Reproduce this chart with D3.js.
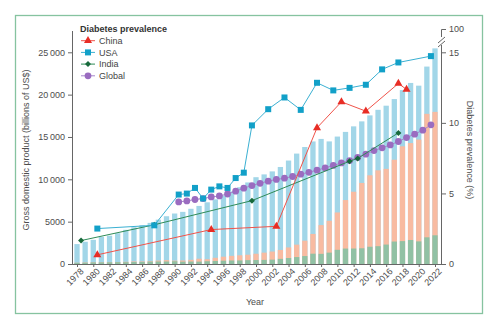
<!DOCTYPE html>
<html>
<head>
<meta charset="utf-8">
<script src="https://cdn.jsdelivr.net/npm/d3@7"></script>
<style>
body { margin: 0; background: #fff; }
svg { display: block; }
</style>
</head>
<body>
<script>
// GDP, billions of US$, one bar per year
var years = d3.range(1978, 2023);
var gdpUSA = [2352, 2627, 2857, 3207, 3343, 3634, 4037, 4339, 4580, 4855, 5236, 5642, 5963, 6158, 6520, 6858, 7287, 7640, 8073, 8578, 9063, 9631, 10251, 10582, 10936, 11458, 12217, 13039, 13816, 14474, 14770, 14478, 15049, 15600, 16254, 16843, 17551, 18206, 18695, 19477, 20533, 21381, 21060, 23315, 25463];
var gdpChina = [150, 178, 191, 196, 205, 231, 260, 310, 301, 327, 408, 457, 395, 415, 494, 623, 564, 735, 864, 962, 1029, 1094, 1211, 1339, 1471, 1660, 1955, 2286, 2752, 3550, 4594, 5102, 6087, 7552, 8532, 9570, 10476, 11062, 11233, 12310, 13895, 14280, 14688, 17734, 17963];
var gdpIndia = [137, 153, 186, 193, 201, 218, 212, 233, 249, 279, 297, 296, 321, 270, 288, 279, 327, 360, 393, 415, 421, 458, 468, 485, 515, 608, 709, 820, 940, 1217, 1199, 1342, 1676, 1823, 1828, 1857, 2039, 2104, 2295, 2651, 2703, 2836, 2672, 3150, 3390];

// diabetes prevalence (%), survey years
var chinaYears = [1980, 1994, 2002, 2007, 2010, 2013, 2017, 2018];
var chinaPrev = [0.65, 2.44, 2.67, 9.65, 11.49, 10.83, 12.79, 12.37];
var usaYears = [1980, 1987, 1990, 1991, 1992, 1993, 1994, 1995, 1996, 1997, 1998, 1999, 2001, 2003, 2005, 2007, 2009, 2011, 2013, 2015, 2017, 2021];
var usaPrev = [2.51, 2.74, 4.92, 4.99, 5.39, 4.64, 5.27, 5.5, 5.39, 6.09, 6.47, 9.82, 10.97, 11.8, 10.92, 12.84, 12.3, 12.48, 12.7, 13.79, 14.28, 14.73];
var indiaYears = [1978, 1987, 1999, 2011, 2012, 2017];
var indiaPrev = [1.66, 2.78, 4.49, 7.28, 7.48, 9.29];
var globalYears = d3.range(1990, 2022);
var globalPrev = [4.40, 4.47, 4.57, 4.64, 4.75, 4.82, 4.96, 5.16, 5.37, 5.56, 5.72, 5.87, 5.99, 6.08, 6.2, 6.36, 6.5, 6.65, 6.81, 6.98, 7.16, 7.33, 7.55, 7.78, 8.04, 8.23, 8.44, 8.68, 8.96, 9.2, 9.48, 9.86];

var leftTicks = [0, 5000, 10000, 15000, 20000, 25000];
var rightTicks = [0, 5, 10, 15];
var xTickYears = d3.range(1978, 2023, 2);

var width = 490, height = 321;
var font = "'Liberation Sans', Arial, sans-serif";
var axisGrey = "#666";
var textGrey = "#4d4d4d";

var svg = d3.select("body").append("svg")
	.attr("width", width)
	.attr("height", height);

// frame
svg.append("rect")
	.attr("x", 15.5).attr("y", 15.5)
	.attr("width", 467).attr("height", 298)
	.attr("fill", "none")
	.attr("stroke", "#86c3a0")
	.attr("stroke-width", 1.3);

var x = d3.scaleLinear().domain([1978, 2022]).range([77, 435]);
var yGdp = d3.scaleLinear().domain([0, 25000]).range([264, 52.3]);
var yPrev = d3.scaleLinear().domain([0, 15]).range([264, 52.3]);
var barW = 5.3;

function drawBars(values, color){
	svg.append("g").selectAll("rect")
		.data(years)
		.enter()
		.append("rect")
		.attr("x", function(d){ return x(d) - barW/2; })
		.attr("y", function(d, i){ return yGdp(values[i]); })
		.attr("width", barW)
		.attr("height", function(d, i){ return yGdp(0) - yGdp(values[i]); })
		.attr("fill", color);
}
drawBars(gdpUSA, "#a2d6e8");
drawBars(gdpChina, "#f8bba1");
drawBars(gdpIndia, "#91c1a4");

// x axis
var xAxis = svg.append("g")
	.attr("transform", "translate(0,264)")
	.call(d3.axisBottom(x).tickValues(xTickYears).tickFormat(d3.format("d")).tickSize(3).tickPadding(2));
xAxis.select(".domain").attr("d", "M72,0.5H442");

// left axis
var lAxis = svg.append("g")
	.attr("transform", "translate(72,0)")
	.call(d3.axisLeft(yGdp).tickValues(leftTicks).tickSize(4).tickPadding(3)
		.tickFormat(function(d){ return d >= 10000 ? d3.format(",")(d).replace(",", "\u2009") : d; }));
lAxis.select(".domain").attr("d", "M0.5,264V31");

// right axis with break up to 100
var rAxis = svg.append("g")
	.attr("transform", "translate(442,0)")
	.call(d3.axisRight(yPrev).tickValues(rightTicks).tickSize(4).tickPadding(3));
rAxis.select(".domain").attr("d", "M-0.5,264V45");
rAxis.append("path").attr("d", "M-0.5,37V29.5H4");
rAxis.append("path").attr("d", "M-4,43L3,37M-4,47L3,41");
rAxis.append("text")
	.attr("x", 7).attr("y", 29.5).attr("dy", "0.32em")
	.text("100");

[xAxis, lAxis, rAxis].forEach(function(a){
	a.selectAll("path, .tick line").attr("stroke", axisGrey).attr("fill", "none");
	a.selectAll("text")
		.attr("font-family", font)
		.attr("font-size", 9)
		.attr("fill", textGrey);
});
xAxis.selectAll("text")
	.attr("transform", "rotate(-45)")
	.attr("text-anchor", "end")
	.attr("dx", "-0.1em")
	.attr("dy", "0.6em");

// axis titles
svg.append("text")
	.attr("transform", "translate(29,150) rotate(-90)")
	.attr("text-anchor", "middle")
	.attr("font-family", font).attr("font-size", 9).attr("fill", textGrey)
	.text("Gross domestic product (billions of US$)");
svg.append("text")
	.attr("transform", "translate(467,150) rotate(90)")
	.attr("text-anchor", "middle")
	.attr("font-family", font).attr("font-size", 9).attr("fill", textGrey)
	.text("Diabetes prevalence (%)");
svg.append("text")
	.attr("x", 255).attr("y", 305)
	.attr("text-anchor", "middle")
	.attr("font-family", font).attr("font-size", 9).attr("fill", textGrey)
	.text("Year");

// prevalence lines, drawn at mid-year
var series = [
	{name: "Global", yrs: globalYears, vals: globalPrev, line: "#a587cc", fill: "#9a6cc0", shape: d3.symbolCircle, size: 36, rot: 0},
	{name: "India", yrs: indiaYears, vals: indiaPrev, line: "#2e8b57", fill: "#17693b", shape: d3.symbolSquare, size: 18, rot: 45},
	{name: "China", yrs: chinaYears, vals: chinaPrev, line: "#f0534a", fill: "#e82d25", shape: d3.symbolTriangle, size: 28, rot: 0},
	{name: "USA", yrs: usaYears, vals: usaPrev, line: "#3ab0d2", fill: "#12a0c8", shape: d3.symbolSquare, size: 36, rot: 0}
];

series.forEach(function(s){
	var pts = s.yrs.map(function(yr, i){ return [x(yr + 0.5), yPrev(s.vals[i])]; });
	svg.append("path")
		.attr("d", d3.line()(pts))
		.attr("fill", "none")
		.attr("stroke", s.line)
		.attr("stroke-width", 1);
	svg.append("g").selectAll("path")
		.data(pts)
		.enter()
		.append("path")
		.attr("transform", function(d){ return "translate(" + d[0] + "," + d[1] + ") rotate(" + s.rot + ")"; })
		.attr("d", d3.symbol().type(s.shape).size(s.size))
		.attr("fill", s.fill);
});

// legend
var legend = svg.append("g").attr("font-family", font);
legend.append("text")
	.attr("x", 80).attr("y", 32)
	.attr("font-size", 9).attr("font-weight", "bold").attr("fill", "#333")
	.text("Diabetes prevalence");
var legendOrder = ["China", "USA", "India", "Global"];
legendOrder.forEach(function(name, i){
	var s = series.filter(function(d){ return d.name === name; })[0];
	var ly = 40.7 + i * 11.7;
	legend.append("line")
		.attr("x1", 81).attr("x2", 95).attr("y1", ly).attr("y2", ly)
		.attr("stroke", s.line);
	legend.append("path")
		.attr("transform", "translate(88," + ly + ") rotate(" + s.rot + ")")
		.attr("d", d3.symbol().type(s.shape).size(s.size))
		.attr("fill", s.fill);
	legend.append("text")
		.attr("x", 99).attr("y", ly).attr("dy", "0.35em")
		.attr("font-size", 9).attr("fill", "#444")
		.text(name);
});
</script>
</body>
</html>
